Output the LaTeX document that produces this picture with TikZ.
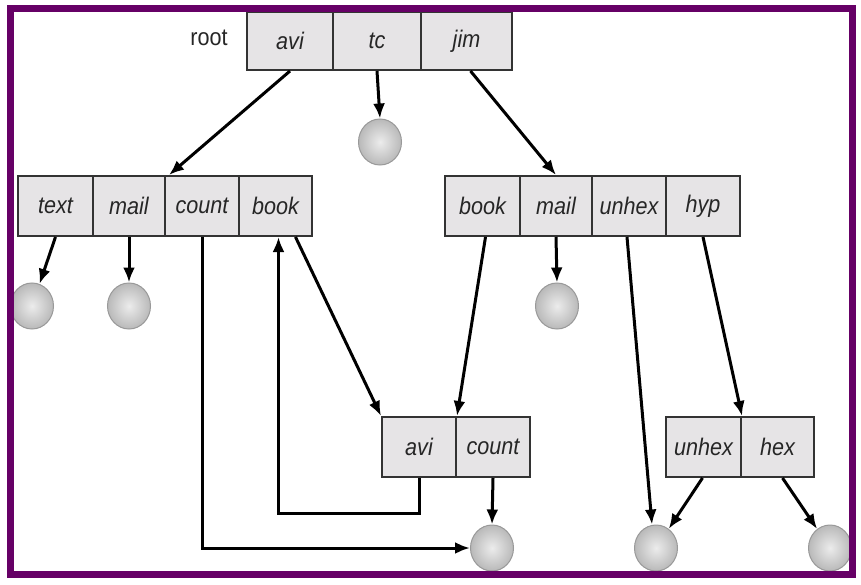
\documentclass[tikz,border=0pt]{standalone}
\usepackage{fontspec}
\setmainfont{Liberation Sans}[FakeStretch=0.9]
\usetikzlibrary{arrows.meta,shapes.geometric}
\definecolor{framepurple}{RGB}{102,0,102}
\definecolor{cellgray}{RGB}{230,228,230}
\begin{document}
\begin{tikzpicture}[x=1pt, y=-1pt, every node/.style={font=\fontsize{24}{26}\selectfont\itshape, text=black!85},
	cell/.style={draw=black!80, line width=2pt, fill=cellgray, inner sep=0pt, minimum height=60pt},
	leaf/.style={ellipse, draw=gray!80, line width=1pt, shading=radial, inner color=gray!15, outer color=gray!55, minimum width=43pt, minimum height=46pt, inner sep=0pt},
	link/.style={line width=3pt, -{Latex[length=15pt,width=12pt]}}]
	\useasboundingbox (0,0) rectangle (861,585);
	% root directory
	\node[font=\fontsize{24}{26}\selectfont] (rootlbl) at (209,38) {root};
	\node[cell, minimum width=86pt, minimum height=58pt] (avi0) at (290,41) {avi};
	\node[cell, minimum width=88pt, minimum height=58pt] (tc0) at (377,41) {tc};
	\node[cell, minimum width=91pt, minimum height=58pt] (jim0) at (466.5,41) {jim};
	% avi's directory
	\node[cell, minimum width=75pt] (text1) at (55.5,206) {text};
	\node[cell, minimum width=72pt] (mail1) at (129,206) {mail};
	\node[cell, minimum width=74pt] (count1) at (202,206) {count};
	\node[cell, minimum width=73pt] (book1) at (275.5,206) {book};
	% jim's directory
	\node[cell, minimum width=75pt] (book2) at (482.5,206) {book};
	\node[cell, minimum width=72pt] (mail2) at (556,206) {mail};
	\node[cell, minimum width=74pt] (unhex2) at (629,206) {unhex};
	\node[cell, minimum width=74pt] (hyp2) at (703,206) {hyp};
	% shared directories
	\node[cell, minimum width=74pt] (avi3) at (419,447) {avi};
	\node[cell, minimum width=74pt] (count3) at (493,447) {count};
	\node[cell, minimum width=75pt] (unhex3) at (703.5,447) {unhex};
	\node[cell, minimum width=73pt] (hex3) at (777.5,447) {hex};
	% files
	\node[leaf] (ltc) at (380,142) {};
	\node[leaf] (ltext) at (32,306) {};
	\node[leaf] (lmail) at (129,306) {};
	\node[leaf] (lmail2) at (557,306) {};
	\node[leaf] (lcount) at (492,548) {};
	\node[leaf] (lunhex) at (656,548) {};
	\node[leaf] (lhex) at (830,548) {};
	% links
	\draw[link] (avi0.south) -- ([xshift=5pt]count1.north west);
	\draw[link] (tc0.south) -- (ltc.north);
	\draw[link] ([xshift=4pt]jim0.south) -- (mail2.north);
	\draw[link] (text1.south) -- (ltext);
	\draw[link] (mail1.south) -- (lmail.north);
	\draw[link] (count1.south) |- (lcount.west);
	\draw[link] (avi3.south) -- ++(0,35) -| ([xshift=3pt]book1.south);
	\draw[link] ([xshift=20pt]book1.south) -- (avi3.north west);
	\draw[link] ([xshift=3pt]book2.south) -- (avi3.north east);
	\draw[link] (mail2.south) -- (lmail2.north);
	\draw[link] ([xshift=-2pt]unhex2.south) -- ([xshift=-4pt]lunhex.north);
	\draw[link] (hyp2.south) -- (unhex3.north east);
	\draw[link] (count3.south) -- (lcount.north);
	\draw[link] ([xshift=-1pt]unhex3.south) -- (lunhex);
	\draw[link] ([xshift=5pt]hex3.south) -- (lhex);
	% frame
	\draw[framepurple, line width=7pt] (10,9) rectangle (852,574);
\end{tikzpicture}
\end{document}
